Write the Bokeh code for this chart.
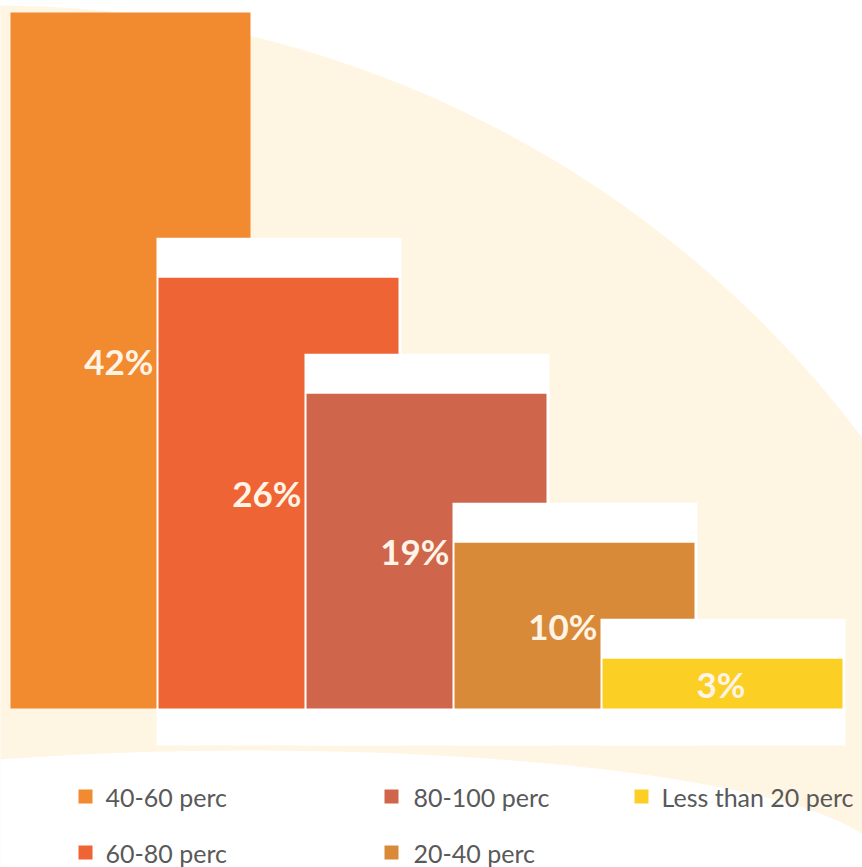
from bokeh.plotting import figure
from bokeh.models import Range1d
from bokeh.core.properties import value
from bokeh.embed import file_html
from bokeh.resources import INLINE

# ---- data ----
categories = ["40-60 perc", "60-80 perc", "80-100 perc", "20-40 perc", "Less than 20 perc"]
shares = [42, 26, 19, 10, 3]
share_labels = ["42%", "26%", "19%", "10%", "3%"]
colors = ["#F28A30", "#EF6434", "#CF654B", "#D98A39", "#FBCF24"]

# ---- layout constants (pixels) ----
W, H = 862, 867
PX_PER_PCT = 16.57
BASE_PX = 708          # baseline distance from the top
X0, STEP, BAR_W = 10, 148, 240
BAND_PX = 40           # white band above each bar
BELOW_PX = 37          # white band below the bars


def py(pix):
    """pixel-from-top -> data y (percent)"""
    return (BASE_PX - pix) / PX_PER_PCT


p = figure(width=W, height=H, output_backend="svg", toolbar_location=None,
           x_range=Range1d(0, W), y_range=Range1d(py(H), py(0)),
           x_axis_location=None, y_axis_location=None, min_border=0)
p.grid.visible = False
p.outline_line_color = None
p.background_fill_color = "white"
p.border_fill_color = "white"

# background decoration: big cream disc and a white disc cutting its lower part
p.ellipse(x=[-5], y=[py(1090)], width=[2 * 1085], height=[2 * 1085 / PX_PER_PCT],
          fill_color="#FFF5E3", line_color=None)
p.ellipse(x=[250], y=[py(860)], width=[1260], height=[220 / PX_PER_PCT],
          fill_color="white", line_color=None)

for i, (v, lab, c) in enumerate(zip(shares, share_labels, colors)):
    left = X0 + i * STEP
    right = left + BAR_W
    if i > 0:
        p.quad(left=[left - 2], right=[right + 3], bottom=[py(BASE_PX + BELOW_PX)],
               top=[v + BAND_PX / PX_PER_PCT], fill_color="white", line_color=None)
    p.quad(left=[left], right=[right], bottom=[0], top=[v],
           fill_color=c, line_color=None)
    p.text(x=[left + STEP - 5], y=[v / 2], text=[lab], text_align="right",
           text_baseline="middle", text_color="#FFF4E6", text_font=value("Lato"),
           text_font_style="bold", text_font_size="35px")

# legend (two rows, column-major)
LEG_SQ_X = [85, 391, 641]
LEG_TXT_X = [105, 413, 661]
LEG_ROW_Y = [796, 852]
for i, (cat, c) in enumerate(zip(categories, colors)):
    col, row = i // 2, i % 2
    yy = py(LEG_ROW_Y[row])
    p.scatter(x=[LEG_SQ_X[col]], y=[yy], marker="square", size=14,
              fill_color=c, line_color=None)
    p.text(x=[LEG_TXT_X[col]], y=[yy], text=[cat], text_align="left",
           text_baseline="middle", text_color="#595959", text_font=value("Lato"),
           text_font_size="25px")

open("out.html", "w").write(file_html(p, INLINE))
